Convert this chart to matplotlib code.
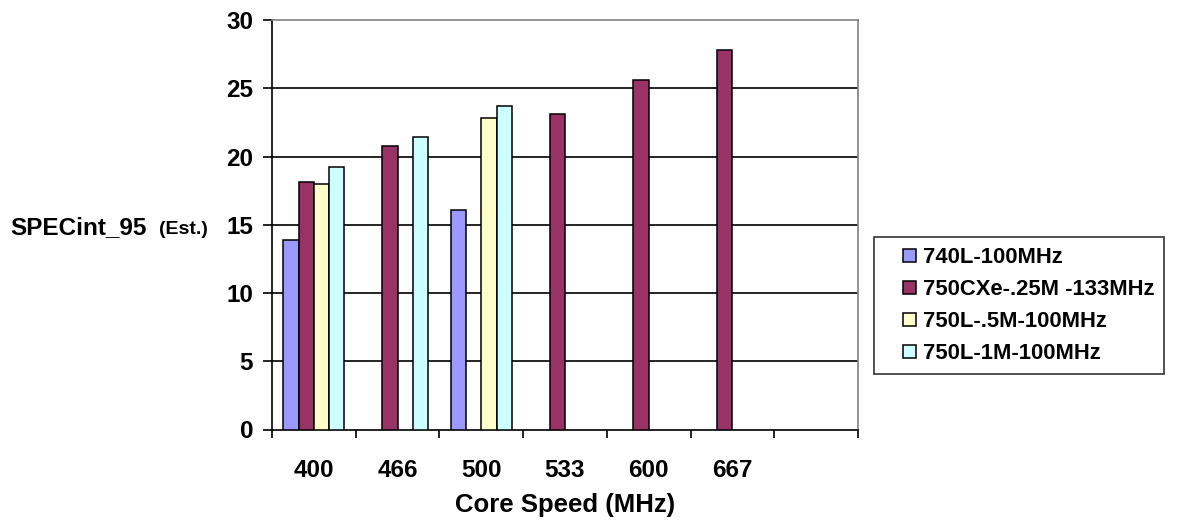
import numpy as np
import matplotlib
matplotlib.use('Agg')
from matplotlib import pyplot as plt
from matplotlib.patches import Rectangle
from matplotlib.container import BarContainer
from matplotlib.legend_handler import HandlerPatch, update_from_first_child

plt.rcParams['font.family'] = ['Liberation Sans', 'DejaVu Sans']
plt.rcParams['font.weight'] = 'bold'

# data
speeds = ['400', '466', '500', '533', '600', '667', '']
names = ['740L-100MHz', '750CXe-.25M -133MHz', '750L-.5M-100MHz', '750L-1M-100MHz']
v740 = [13.9, None, 16.1, None, None, None, None]
v750cxe = [18.1, 20.8, None, 23.1, 25.6, 27.8, None]
v750l_half = [18.0, None, 22.8, None, None, None, None]
v750l_one = [19.2, 21.4, 23.7, None, None, None, None]
yticks = [0, 5, 10, 15, 20, 25, 30]

colors = ['#9999FF', '#993366', '#FFFFCC', '#CCFFFF']
series = [v740, v750cxe, v750l_half, v750l_one]

W, H = 1180, 521
fig = plt.figure(figsize=(W / 100, H / 100), dpi=100)
ax = fig.add_axes([272 / W, 1 - 429.5 / H, 586 / W, 409.5 / H])

n = len(speeds)
w = 1 / 5.5  # excel gap width 150%
handles = []
for j, vals in enumerate(series):
    idx = [i for i, v in enumerate(vals) if v is not None]
    hs = [vals[i] for i in idx]
    b = ax.bar(np.array(idx) + 0.5 + (j - 1.5) * w, hs, width=w, color=colors[j],
               edgecolor='black', linewidth=1.1, zorder=3, label=names[j])
    handles.append(b)

for t in yticks[1:-1]:
    ax.axhline(t, color='black', lw=1.2, zorder=1)

ax.set_xlim(0, n)
ax.set_ylim(0, 30)
for s in ['top', 'right']:
    ax.spines[s].set_color('#808080')
    ax.spines[s].set_linewidth(1.2)
for s in ['left', 'bottom']:
    ax.spines[s].set_color('black')
    ax.spines[s].set_linewidth(1.2)

ax.set_yticks(yticks)
ax.set_yticklabels([str(t) for t in yticks], fontsize=17.5, fontweight='bold')
ax.tick_params(axis='y', direction='out', length=6.5, width=1.2, pad=7)

ax.set_xticks(np.arange(n + 1))
ax.set_xticklabels([])
ax.tick_params(axis='x', which='major', direction='out', length=6, width=1.2)
ax.set_xticks(np.arange(n) + 0.5, minor=True)
ax.set_xticklabels(speeds, minor=True, fontsize=17.5, fontweight='bold')
ax.tick_params(axis='x', which='minor', length=0, pad=21)

# axis titles
fig.text(10 / W, 1 - 234 / H, 'SPECint_95', fontsize=17.5, fontweight='bold',
         ha='left', va='baseline')
fig.text(159 / W, 1 - 234 / H, '(Est.)', fontsize=14, fontweight='bold',
         ha='left', va='baseline')
fig.text(565 / W, 1 - 505 / H, 'Core Speed (MHz)', fontsize=18.5, fontweight='bold',
         ha='center', va='center')


def square(legend, orig_handle, xdescent, ydescent, width, height, fontsize):
    s = 0.6 * fontsize
    return Rectangle((-xdescent + width - s, -ydescent + (height - s) / 2), s, s)


leg = fig.legend(handles=handles, labels=names, loc='upper left',
                 bbox_to_anchor=(874 / W, 1 - 237 / H), fontsize=15.8,
                 frameon=True, fancybox=False, edgecolor='black',
                 handlelength=1.45, handleheight=0.7, handletextpad=0.33,
                 labelspacing=0.5, borderpad=0.45, borderaxespad=0,
                 handler_map={BarContainer: HandlerPatch(patch_func=square,
                                                         update_func=update_from_first_child)})
leg.get_frame().set_linewidth(1.2)
for t in leg.get_texts():
    t.set_fontweight('bold')

fig.savefig('out.png', dpi=100)
